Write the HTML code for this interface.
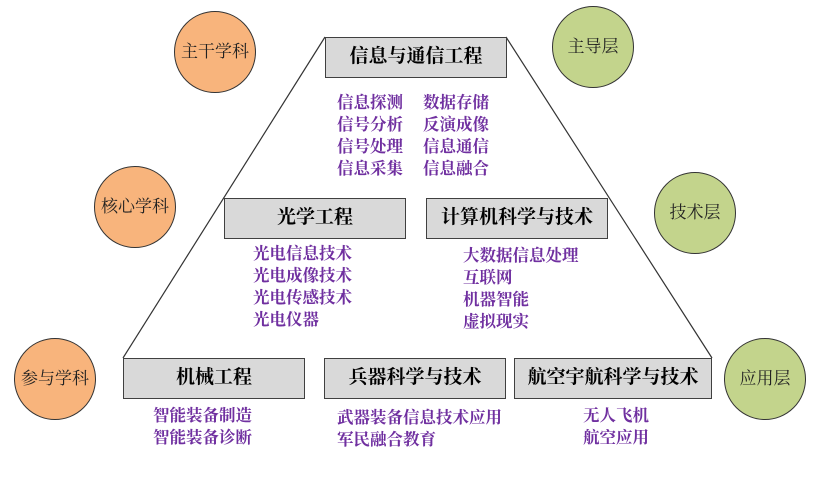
<!DOCTYPE html>
<html><head><meta charset="utf-8"><style>
body{margin:0;width:831px;height:482px;background:#fff;overflow:hidden;position:relative;font-family:"Liberation Serif","Noto Serif CJK SC",serif}
.b{position:absolute;box-sizing:border-box;background:#d9d9d9;border:1.5px solid #404040;height:41px;line-height:38px;text-align:center;font-size:19px;font-weight:bold;color:#000}
.c{position:absolute;box-sizing:border-box;width:82px;height:82px;border-radius:50%;border:1.5px solid #333;line-height:79px;text-align:center;font-size:17px;color:#222}
.o{background:#f8b47c}.g{background:#c3d48c}
.t{position:absolute;color:#7030a0;font-size:16.5px;font-weight:bold;line-height:22px;white-space:nowrap}
</style></head><body>
<svg width="831" height="482" style="position:absolute;left:0;top:0">
<line x1="325" y1="37" x2="123" y2="358" stroke="#333" stroke-width="1.2"/>
<line x1="506" y1="37" x2="712" y2="358" stroke="#333" stroke-width="1.2"/>
</svg>
<div class="c o" style="left:174px;top:11px">主干学科</div>
<div class="c o" style="left:94px;top:166px">核心学科</div>
<div class="c o" style="left:14px;top:338px">参与学科</div>
<div class="c g" style="left:552px;top:6px">主导层</div>
<div class="c g" style="left:654px;top:172px">技术层</div>
<div class="c g" style="left:724px;top:338px">应用层</div>
<div class="b" style="left:325px;top:37px;width:182px">信息与通信工程</div>
<div class="b" style="left:224px;top:198px;width:182px">光学工程</div>
<div class="b" style="left:426px;top:198px;width:182px">计算机科学与技术</div>
<div class="b" style="left:123px;top:358px;width:182px">机械工程</div>
<div class="b" style="left:324px;top:358px;width:182px">兵器科学与技术</div>
<div class="b" style="left:514px;top:358px;width:198px">航空宇航科学与技术</div>
<div class="t" style="left:337px;top:92px">信息探测<br>信号分析<br>信号处理<br>信息采集</div>
<div class="t" style="left:423px;top:92px">数据存储<br>反演成像<br>信息通信<br>信息融合</div>
<div class="t" style="left:253px;top:243px">光电信息技术<br>光电成像技术<br>光电传感技术<br>光电仪器</div>
<div class="t" style="left:463px;top:245px">大数据信息处理<br>互联网<br>机器智能<br>虚拟现实</div>
<div class="t" style="left:153px;top:405px">智能装备制造<br>智能装备诊断</div>
<div class="t" style="left:337px;top:407px">武器装备信息技术应用<br>军民融合教育</div>
<div class="t" style="left:583px;top:405px">无人飞机<br>航空应用</div>
</body></html>
